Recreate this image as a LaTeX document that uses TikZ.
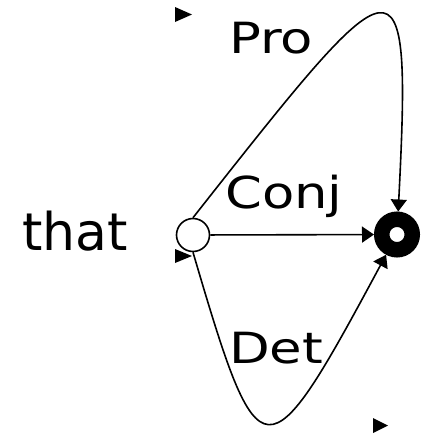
\documentclass[tikz,border=0pt]{standalone}
\usepackage{fontspec}
\setmainfont{DejaVu Sans}
\usetikzlibrary{arrows.meta}
\begin{document}
\begin{tikzpicture}[x=1pt,y=-1pt,
  edge/.style={line width=1.6pt,-{Triangle[length=12pt,width=16pt]}},
  lbl/.style={inner sep=0pt,anchor=base},
  tri/.style={fill=black}]
\useasboundingbox (0,0) rectangle (425,434);
\node[circle,draw,line width=1.6pt,minimum size=33pt,inner sep=0pt] (q0) at (193,235) {};
\node[circle,draw,line width=15.5pt,minimum size=30.5pt,inner sep=0pt] (qf) at (397,234.5) {};
\node[lbl] (that) at (75,250) {\fontsize{52}{60}\selectfont that};
\node[lbl] (pro) at (271,53) {\scalebox{1.23}[1]{\fontsize{43}{50}\selectfont Pro}};
\node[lbl] (conj) at (284,208) {\scalebox{1.2}[1]{\fontsize{44}{50}\selectfont Conj}};
\node[lbl] (det) at (276,363) {\scalebox{1.23}[1]{\fontsize{43}{50}\selectfont Det}};
\draw[edge] (q0) -- (qf);
\draw[edge] (q0.north) .. controls (400,-45) and (412,-60) .. (qf);
\draw[edge] (q0.south) .. controls (260,480) and (265,480) .. (qf);
\coordinate (m1) at (175,7);
\coordinate (m2) at (373,418);
\coordinate (m3) at (175,249);
\fill[tri] (m1) -- ++(17,7.5) -- ++(-17,7.5) -- cycle;
\fill[tri] (m2) -- ++(15,7.5) -- ++(-15,7.5) -- cycle;
\fill[tri] (m3) -- ++(17,7) -- ++(-17,7) -- cycle;
\end{tikzpicture}
\end{document}
